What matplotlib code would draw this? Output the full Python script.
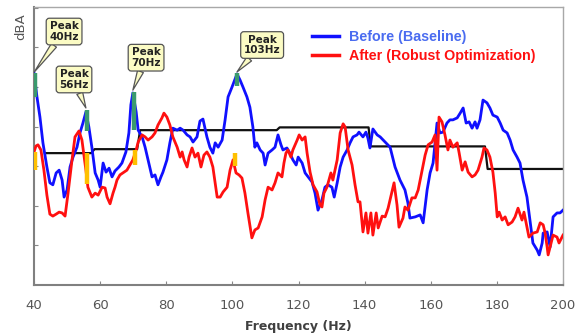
"""Before/after noise spectrum (robust optimization) with peak callouts. Writes out.png."""
import matplotlib
matplotlib.use("Agg")
import matplotlib.pyplot as plt
from matplotlib.lines import Line2D

# ---- data (frequency in Hz, level in arbitrary dBA units; y axis is unlabelled) ----
before_hz = [
    40.0, 40.9, 41.8, 42.7, 43.9, 44.8, 45.7, 46.7, 47.6, 48.5,
    49.1, 50.0, 50.9, 51.8, 53.0, 53.9, 54.8, 55.7, 56.6, 57.5,
    58.5, 59.4, 60.0, 60.9, 61.8, 62.7, 63.6, 64.5, 65.7, 66.6,
    67.8, 68.7, 69.3, 69.9, 70.9, 71.5, 72.7, 73.6, 74.5, 75.7,
    76.6, 77.5, 78.4, 79.0, 80.2, 81.1, 82.0, 83.3, 84.2, 85.1,
    86.3, 87.2, 88.1, 89.3, 90.2, 91.1, 92.3, 93.2, 94.1, 94.8,
    95.7, 96.9, 97.8, 98.7, 99.9, 101.4, 102.3, 103.2, 104.4, 105.3,
    106.2, 106.8, 107.4, 108.4, 109.3, 109.9, 110.8, 112.0, 112.9, 113.8,
    114.7, 115.3, 116.5, 117.4, 118.3, 119.3, 119.9, 121.1, 122.0, 122.9,
    124.1, 125.0, 125.9, 127.1, 128.0, 128.9, 130.1, 130.8, 131.7, 132.6,
    133.5, 134.7, 135.6, 136.5, 137.7, 138.3, 139.5, 140.4, 141.0, 141.6,
    142.5, 143.8, 144.7, 146.2, 147.7, 149.2, 150.7, 152.2, 153.1, 153.7,
    155.3, 156.8, 157.7, 158.9, 159.8, 160.7, 161.9, 162.8, 163.7, 164.9,
    165.8, 166.7, 168.0, 168.9, 169.8, 170.7, 171.6, 172.5, 173.4, 174.0,
    174.9, 175.8, 177.0, 177.9, 178.8, 180.1, 181.0, 181.9, 183.1, 184.0,
    184.9, 186.1, 187.0, 187.9, 189.1, 190.0, 190.9, 192.2, 192.8, 193.7,
    194.0, 195.2, 196.1, 196.7, 197.0, 198.2, 199.1, 200.0,
]
before_lvl = [
    53.5, 47.5, 42.4, 35.9, 29.8, 25.8, 25.3, 28.3, 29.0, 26.5,
    22.2, 24.0, 29.8, 32.3, 34.8, 38.4, 40.9, 43.7, 39.9, 34.8,
    28.3, 26.5, 24.7, 30.8, 28.5, 29.5, 27.3, 28.8, 29.8, 30.8,
    33.6, 38.4, 45.5, 48.5, 43.7, 39.1, 37.4, 34.8, 31.6, 27.3,
    27.8, 25.3, 27.3, 28.5, 31.6, 35.9, 39.6, 39.1, 39.6, 39.1,
    37.9, 37.4, 36.1, 37.4, 41.4, 41.9, 37.4, 34.8, 33.3, 35.9,
    34.8, 36.6, 41.7, 47.5, 50.0, 53.3, 51.8, 50.0, 47.5, 44.9,
    39.9, 34.8, 35.9, 34.1, 33.3, 30.3, 33.3, 34.1, 34.8, 37.9,
    35.4, 34.1, 34.6, 33.3, 31.6, 30.3, 32.3, 30.8, 28.3, 27.3,
    26.0, 23.2, 18.9, 21.5, 24.7, 25.3, 24.7, 22.2, 25.8, 29.8,
    32.3, 34.1, 35.9, 37.4, 37.9, 38.6, 37.4, 38.6, 37.1, 34.6,
    39.4, 37.9, 37.4, 36.1, 34.8, 29.8, 26.5, 24.0, 20.7, 16.9,
    17.2, 17.7, 15.7, 24.0, 28.3, 30.8, 40.9, 38.4, 38.6, 40.9,
    41.7, 41.7, 42.2, 43.4, 44.7, 40.9, 41.2, 39.6, 41.2, 39.6,
    41.7, 46.7, 46.0, 44.7, 42.9, 42.4, 40.9, 39.1, 38.4, 36.6,
    34.1, 32.3, 30.8, 26.5, 22.2, 16.4, 10.6, 8.8, 7.6, 10.6,
    13.1, 13.4, 9.6, 14.6, 17.2, 18.2, 18.2, 18.9,
]

after_hz = [
    40.0, 40.6, 41.2, 42.1, 43.0, 43.9, 44.8, 45.7, 46.7, 47.6,
    48.5, 49.4, 50.3, 51.5, 52.4, 53.6, 54.5, 55.1, 55.7, 56.3,
    57.5, 58.5, 59.4, 60.6, 61.5, 62.1, 63.0, 63.9, 64.5, 65.1,
    66.0, 66.9, 68.1, 69.0, 69.9, 70.9, 71.5, 72.7, 73.6, 74.5,
    75.7, 76.6, 77.5, 78.7, 79.3, 80.2, 81.1, 82.0, 83.3, 84.2,
    84.8, 85.4, 86.3, 86.9, 87.8, 88.7, 89.6, 90.5, 91.4, 92.3,
    93.2, 94.1, 94.8, 95.4, 96.3, 97.2, 98.4, 99.3, 100.2, 101.1,
    102.0, 102.9, 103.8, 104.7, 105.9, 106.8, 107.8, 109.0, 109.9, 110.8,
    112.0, 112.9, 113.8, 115.0, 115.6, 116.2, 116.8, 117.7, 118.3, 119.6,
    120.2, 121.1, 122.0, 122.6, 123.5, 124.4, 125.6, 126.5, 127.1, 127.7,
    128.6, 129.8, 130.4, 131.7, 132.6, 133.5, 134.1, 135.0, 136.2, 137.1,
    138.0, 138.6, 139.5, 140.4, 141.0, 141.9, 142.5, 143.5, 144.1, 145.3,
    146.2, 147.1, 147.7, 148.9, 149.8, 150.4, 151.6, 152.2, 153.1, 154.3,
    155.3, 156.2, 157.4, 158.3, 159.2, 160.4, 161.3, 161.9, 162.5, 163.4,
    164.3, 165.2, 165.8, 166.7, 168.0, 168.6, 169.5, 170.4, 171.3, 172.5,
    173.4, 174.3, 175.5, 176.1, 177.0, 177.9, 178.8, 179.5, 180.1, 180.7,
    181.6, 182.5, 183.4, 184.6, 185.5, 186.4, 187.6, 188.2, 189.1, 189.7,
    190.9, 192.2, 193.1, 194.0, 194.6, 195.2, 195.5, 196.4, 197.0, 198.2,
    198.8, 200.0,
]
after_lvl = [
    33.6, 35.1, 35.4, 34.1, 29.0, 22.7, 17.9, 17.4, 17.9, 18.4,
    18.2, 17.4, 23.2, 31.6, 37.4, 38.9, 36.6, 32.8, 29.0, 24.7,
    22.2, 23.2, 22.7, 24.7, 24.5, 22.2, 20.5, 23.2, 24.7, 26.5,
    27.8, 28.3, 29.0, 30.3, 31.6, 34.1, 36.1, 37.9, 37.4, 36.6,
    37.4, 38.4, 40.4, 42.2, 43.4, 42.4, 40.4, 37.4, 34.8, 32.3,
    33.6, 31.6, 29.8, 32.3, 34.6, 32.3, 33.3, 29.8, 32.8, 33.6,
    32.3, 29.8, 25.8, 22.2, 22.2, 23.5, 24.7, 29.0, 31.6, 28.3,
    27.8, 27.0, 23.2, 18.2, 11.9, 13.9, 14.4, 17.2, 21.5, 24.7,
    24.0, 25.8, 28.3, 27.3, 30.8, 33.3, 34.1, 32.3, 34.1, 36.6,
    37.9, 36.6, 37.4, 33.3, 28.5, 25.3, 23.5, 20.2, 19.7, 23.2,
    24.7, 28.3, 26.5, 31.6, 38.4, 40.7, 39.9, 34.1, 30.3, 25.3,
    21.0, 21.0, 13.4, 18.2, 13.1, 18.2, 12.6, 18.2, 14.4, 17.4,
    17.2, 19.4, 21.5, 25.8, 20.2, 14.6, 16.9, 19.7, 18.9, 22.0,
    22.0, 24.0, 29.0, 32.8, 35.4, 36.1, 37.9, 29.0, 42.4, 41.2,
    37.9, 34.1, 36.6, 34.8, 35.9, 33.3, 29.0, 31.1, 28.5, 27.3,
    27.8, 29.0, 32.3, 34.6, 34.1, 32.3, 28.5, 23.2, 17.2, 18.4,
    16.4, 17.2, 15.2, 15.9, 17.2, 19.4, 16.4, 18.4, 14.6, 12.1,
    13.1, 13.4, 15.7, 15.2, 13.1, 9.6, 7.6, 10.6, 12.6, 12.1,
    10.6, 12.6,
]

# black stepped target line
target_hz = [43.3, 57.3, 58.3, 71.2, 72.1, 113.4, 114.3, 141.2, 141.8, 176.4, 177.2, 200.0]
target_lvl = [33.3, 33.3, 34.3, 34.3, 39.1, 39.1, 39.8, 39.8, 35.0, 35.0, 29.3, 29.3]

# peak markers: (Hz, low, high)
green_marks = [(40.3, 47.5, 53.5), (55.9, 38.9, 44.2), (70.2, 39.1, 48.7), (101.4, 50.2, 53.5)]
orange_marks = [(40.3, 29.0, 33.6), (55.9, 25.5, 33.3), (70.5, 30.3, 34.1), (100.8, 30.0, 33.3)]

# callouts: label, box centre (Hz, lvl), tip (Hz, lvl)
callout_text = ["Peak\n40Hz", "Peak\n56Hz", "Peak\n70Hz", "Peak\n103Hz"]
callout_box = [(49.1, 64.0), (52.1, 51.9), (73.9, 57.4), (109.0, 60.6)]
callout_tip = [(40.1, 53.8), (55.7, 44.7), (69.9, 49.2), (101.4, 53.8)]

x_ticks = [40, 60, 80, 100, 120, 140, 160, 180, 200]
y_ticks = [10, 20, 30, 40, 50, 60, 70]

BLUE = "#1010ff"
RED = "#ff1010"
GREEN = "#3a9a6e"
ORANGE = "#ffc000"

fig = plt.figure(figsize=(5.86, 3.34), dpi=100)
ax = fig.add_axes([34 / 586, 49 / 334, 529 / 586, 278 / 334])

ax.plot(target_hz, target_lvl, color="#111111", lw=1.6, zorder=2)
ax.plot(before_hz, before_lvl, color=BLUE, lw=2.0, zorder=3)
ax.plot(after_hz, after_lvl, color=RED, lw=2.0, zorder=3)

for hz, lo, hi in green_marks:
    ax.plot([hz, hz], [lo, hi], color=GREEN, lw=3.2, solid_capstyle="butt", zorder=4)
for hz, lo, hi in orange_marks:
    ax.plot([hz, hz], [lo, hi], color=ORANGE, lw=3.2, solid_capstyle="butt", zorder=4)

for txt, box, tip in zip(callout_text, callout_box, callout_tip):
    ax.annotate(txt, xy=tip, xytext=box, ha="center", va="center",
                fontsize=7.5, fontweight="bold", color="#222222", linespacing=1.05,
                annotation_clip=False, zorder=6,
                bbox=dict(boxstyle="round,pad=0.3,rounding_size=0.3", fc="#fbfbc4", ec="#555555", lw=0.9),
                arrowprops=dict(arrowstyle="wedge,tail_width=0.6", fc="#fbfbc4", ec="#555555",
                                lw=0.9, shrinkA=0, shrinkB=0))

ax.set_xlim(40, 200)
ax.set_ylim(0, 70.2)
ax.set_xticks(x_ticks)
ax.set_yticks(y_ticks)
ax.set_yticklabels([])
ax.tick_params(direction="in", length=3, color="#888888", labelcolor="#555555", labelsize=9.5)
ax.tick_params(axis="x", pad=10)

for side in ("left", "bottom"):
    ax.spines[side].set_color("#808080")
    ax.spines[side].set_linewidth(1.5)
for side in ("top", "right"):
    ax.spines[side].set_color("#a8a8a8")
    ax.spines[side].set_linewidth(1.0)

ax.set_xlabel("Frequency (Hz)", fontsize=9, fontweight="bold", color="#404040", labelpad=6)
ax.text(-0.025, 0.928, "dBA", rotation=90, transform=ax.transAxes, ha="center", va="center",
        fontsize=9.5, color="#555555")

handles = [Line2D([], [], color=BLUE, lw=2.5), Line2D([], [], color=RED, lw=2.5)]
leg = ax.legend(handles, ["Before (Baseline)", "After (Robust Optimization)"],
                loc="upper left", bbox_to_anchor=(305 / 586, 1 - 23 / 334),
                bbox_transform=fig.transFigure, frameon=False, borderpad=0,
                handlelength=1.9, handletextpad=0.7, labelspacing=0.35,
                prop={"family": "Liberation Sans", "weight": "bold", "size": 10.3})
for t, c in zip(leg.get_texts(), ["#4a6cf0", RED]):
    t.set_color(c)

fig.savefig("out.png", dpi=100)
